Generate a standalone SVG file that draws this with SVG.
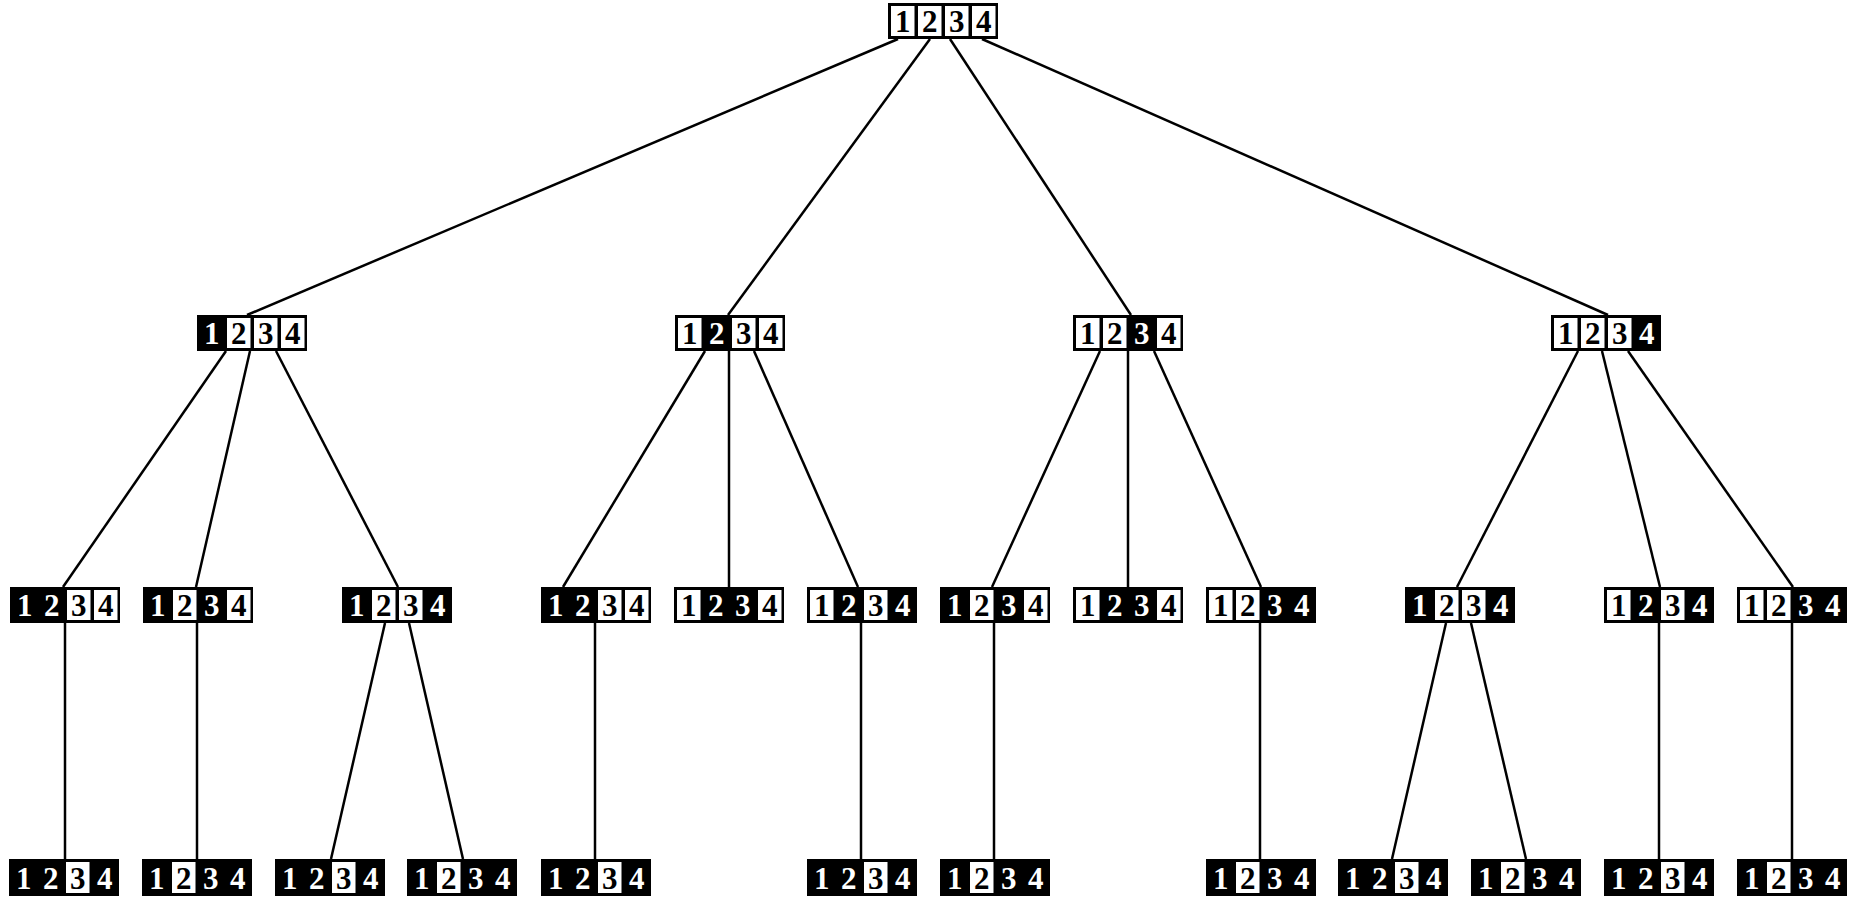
<svg xmlns="http://www.w3.org/2000/svg" width="1851" height="897" viewBox="0 0 1851 897">
  <style>
    .frame { fill: #000; }
    .cell { fill: #fff; }
    .d { font-family: "Liberation Serif", "Times New Roman", serif; font-weight: bold; font-size: 31px; text-anchor: middle; }
    .dw { fill: #000; }
    .db { fill: #fff; }
    .edges line { stroke: #000; stroke-width: 2.5; stroke-linecap: butt; }
  </style>

  <!-- connectors -->
  <g id="edges" class="edges">
    <!-- root to level 2 -->
    <line x1="898" y1="39" x2="247" y2="315"/>
    <line x1="930" y1="39" x2="728" y2="315"/>
    <line x1="950" y1="39" x2="1131" y2="315"/>
    <line x1="982" y1="39" x2="1608" y2="315"/>
    <!-- level 2 to level 3 -->
    <line x1="226" y1="351" x2="63" y2="587"/>
    <line x1="250" y1="351" x2="196" y2="587"/>
    <line x1="276" y1="351" x2="398" y2="587"/>
    <line x1="705" y1="351" x2="563" y2="587"/>
    <line x1="729" y1="351" x2="729" y2="587"/>
    <line x1="754" y1="351" x2="858" y2="587"/>
    <line x1="1100" y1="351" x2="992" y2="587"/>
    <line x1="1128" y1="351" x2="1128" y2="587"/>
    <line x1="1154" y1="351" x2="1261" y2="587"/>
    <line x1="1578" y1="351" x2="1457" y2="587"/>
    <line x1="1602" y1="351" x2="1660" y2="587"/>
    <line x1="1628" y1="351" x2="1793" y2="587"/>
    <!-- level 3 to leaves -->
    <line x1="65" y1="623" x2="65" y2="859"/>
    <line x1="197" y1="623" x2="197" y2="859"/>
    <line x1="385" y1="623" x2="331" y2="859"/>
    <line x1="409" y1="623" x2="463" y2="859"/>
    <line x1="595" y1="623" x2="595" y2="859"/>
    <line x1="861" y1="623" x2="861" y2="859"/>
    <line x1="994" y1="623" x2="994" y2="859"/>
    <line x1="1260" y1="623" x2="1260" y2="859"/>
    <line x1="1446" y1="623" x2="1392" y2="859"/>
    <line x1="1471" y1="623" x2="1526" y2="859"/>
    <line x1="1659" y1="623" x2="1659" y2="859"/>
    <line x1="1792" y1="623" x2="1792" y2="859"/>
  </g>

  <!-- root -->
  <g id="n-root" transform="translate(888,3)">
    <rect class="frame" width="110" height="36"/>
    <rect class="cell" x="3" y="3" width="23.5" height="30"/><rect class="cell" x="30" y="3" width="23.5" height="30"/><rect class="cell" x="57" y="3" width="23.5" height="30"/><rect class="cell" x="84" y="3" width="23.5" height="30"/>
    <text class="d dw" x="14.75" y="29">1</text><text class="d dw" x="41.75" y="29">2</text><text class="d dw" x="68.75" y="29">3</text><text class="d dw" x="95.75" y="29">4</text>
  </g>

  <!-- level 2 -->
  <g id="n-1" transform="translate(197,315)">
    <rect class="frame" width="110" height="36"/>
    <rect class="cell" x="30" y="3" width="23.5" height="30"/><rect class="cell" x="57" y="3" width="23.5" height="30"/><rect class="cell" x="84" y="3" width="23.5" height="30"/>
    <text class="d db" x="14.75" y="29">1</text><text class="d dw" x="41.75" y="29">2</text><text class="d dw" x="68.75" y="29">3</text><text class="d dw" x="95.75" y="29">4</text>
  </g>
  <g id="n-2" transform="translate(675,315)">
    <rect class="frame" width="110" height="36"/>
    <rect class="cell" x="3" y="3" width="23.5" height="30"/><rect class="cell" x="57" y="3" width="23.5" height="30"/><rect class="cell" x="84" y="3" width="23.5" height="30"/>
    <text class="d dw" x="14.75" y="29">1</text><text class="d db" x="41.75" y="29">2</text><text class="d dw" x="68.75" y="29">3</text><text class="d dw" x="95.75" y="29">4</text>
  </g>
  <g id="n-3" transform="translate(1073,315)">
    <rect class="frame" width="110" height="36"/>
    <rect class="cell" x="3" y="3" width="23.5" height="30"/><rect class="cell" x="30" y="3" width="23.5" height="30"/><rect class="cell" x="84" y="3" width="23.5" height="30"/>
    <text class="d dw" x="14.75" y="29">1</text><text class="d dw" x="41.75" y="29">2</text><text class="d db" x="68.75" y="29">3</text><text class="d dw" x="95.75" y="29">4</text>
  </g>
  <g id="n-4" transform="translate(1551,315)">
    <rect class="frame" width="110" height="36"/>
    <rect class="cell" x="3" y="3" width="23.5" height="30"/><rect class="cell" x="30" y="3" width="23.5" height="30"/><rect class="cell" x="57" y="3" width="23.5" height="30"/>
    <text class="d dw" x="14.75" y="29">1</text><text class="d dw" x="41.75" y="29">2</text><text class="d dw" x="68.75" y="29">3</text><text class="d db" x="95.75" y="29">4</text>
  </g>

  <!-- level 3 -->
  <g id="n-12" transform="translate(10,587)">
    <rect class="frame" width="110" height="36"/>
    <rect class="cell" x="57" y="3" width="23.5" height="30"/><rect class="cell" x="84" y="3" width="23.5" height="30"/>
    <text class="d db" x="14.75" y="29">1</text><text class="d db" x="41.75" y="29">2</text><text class="d dw" x="68.75" y="29">3</text><text class="d dw" x="95.75" y="29">4</text>
  </g>
  <g id="n-13" transform="translate(143,587)">
    <rect class="frame" width="110" height="36"/>
    <rect class="cell" x="30" y="3" width="23.5" height="30"/><rect class="cell" x="84" y="3" width="23.5" height="30"/>
    <text class="d db" x="14.75" y="29">1</text><text class="d dw" x="41.75" y="29">2</text><text class="d db" x="68.75" y="29">3</text><text class="d dw" x="95.75" y="29">4</text>
  </g>
  <g id="n-14" transform="translate(342,587)">
    <rect class="frame" width="110" height="36"/>
    <rect class="cell" x="30" y="3" width="23.5" height="30"/><rect class="cell" x="57" y="3" width="23.5" height="30"/>
    <text class="d db" x="14.75" y="29">1</text><text class="d dw" x="41.75" y="29">2</text><text class="d dw" x="68.75" y="29">3</text><text class="d db" x="95.75" y="29">4</text>
  </g>
  <g id="n-21" transform="translate(541,587)">
    <rect class="frame" width="110" height="36"/>
    <rect class="cell" x="57" y="3" width="23.5" height="30"/><rect class="cell" x="84" y="3" width="23.5" height="30"/>
    <text class="d db" x="14.75" y="29">1</text><text class="d db" x="41.75" y="29">2</text><text class="d dw" x="68.75" y="29">3</text><text class="d dw" x="95.75" y="29">4</text>
  </g>
  <g id="n-23" transform="translate(674,587)">
    <rect class="frame" width="110" height="36"/>
    <rect class="cell" x="3" y="3" width="23.5" height="30"/><rect class="cell" x="84" y="3" width="23.5" height="30"/>
    <text class="d dw" x="14.75" y="29">1</text><text class="d db" x="41.75" y="29">2</text><text class="d db" x="68.75" y="29">3</text><text class="d dw" x="95.75" y="29">4</text>
  </g>
  <g id="n-24" transform="translate(807,587)">
    <rect class="frame" width="110" height="36"/>
    <rect class="cell" x="3" y="3" width="23.5" height="30"/><rect class="cell" x="57" y="3" width="23.5" height="30"/>
    <text class="d dw" x="14.75" y="29">1</text><text class="d db" x="41.75" y="29">2</text><text class="d dw" x="68.75" y="29">3</text><text class="d db" x="95.75" y="29">4</text>
  </g>
  <g id="n-31" transform="translate(940,587)">
    <rect class="frame" width="110" height="36"/>
    <rect class="cell" x="30" y="3" width="23.5" height="30"/><rect class="cell" x="84" y="3" width="23.5" height="30"/>
    <text class="d db" x="14.75" y="29">1</text><text class="d dw" x="41.75" y="29">2</text><text class="d db" x="68.75" y="29">3</text><text class="d dw" x="95.75" y="29">4</text>
  </g>
  <g id="n-32" transform="translate(1073,587)">
    <rect class="frame" width="110" height="36"/>
    <rect class="cell" x="3" y="3" width="23.5" height="30"/><rect class="cell" x="84" y="3" width="23.5" height="30"/>
    <text class="d dw" x="14.75" y="29">1</text><text class="d db" x="41.75" y="29">2</text><text class="d db" x="68.75" y="29">3</text><text class="d dw" x="95.75" y="29">4</text>
  </g>
  <g id="n-34" transform="translate(1206,587)">
    <rect class="frame" width="110" height="36"/>
    <rect class="cell" x="3" y="3" width="23.5" height="30"/><rect class="cell" x="30" y="3" width="23.5" height="30"/>
    <text class="d dw" x="14.75" y="29">1</text><text class="d dw" x="41.75" y="29">2</text><text class="d db" x="68.75" y="29">3</text><text class="d db" x="95.75" y="29">4</text>
  </g>
  <g id="n-41" transform="translate(1405,587)">
    <rect class="frame" width="110" height="36"/>
    <rect class="cell" x="30" y="3" width="23.5" height="30"/><rect class="cell" x="57" y="3" width="23.5" height="30"/>
    <text class="d db" x="14.75" y="29">1</text><text class="d dw" x="41.75" y="29">2</text><text class="d dw" x="68.75" y="29">3</text><text class="d db" x="95.75" y="29">4</text>
  </g>
  <g id="n-42" transform="translate(1604,587)">
    <rect class="frame" width="110" height="36"/>
    <rect class="cell" x="3" y="3" width="23.5" height="30"/><rect class="cell" x="57" y="3" width="23.5" height="30"/>
    <text class="d dw" x="14.75" y="29">1</text><text class="d db" x="41.75" y="29">2</text><text class="d dw" x="68.75" y="29">3</text><text class="d db" x="95.75" y="29">4</text>
  </g>
  <g id="n-43" transform="translate(1737,587)">
    <rect class="frame" width="110" height="36"/>
    <rect class="cell" x="3" y="3" width="23.5" height="30"/><rect class="cell" x="30" y="3" width="23.5" height="30"/>
    <text class="d dw" x="14.75" y="29">1</text><text class="d dw" x="41.75" y="29">2</text><text class="d db" x="68.75" y="29">3</text><text class="d db" x="95.75" y="29">4</text>
  </g>

  <!-- leaves: one open cell each -->
  <g id="n-124" transform="translate(9,859)">
    <rect class="frame" width="110" height="37"/>
    <rect class="cell" x="57" y="3" width="23.5" height="31"/>
    <text class="d db" x="14.75" y="30">1</text><text class="d db" x="41.75" y="30">2</text><text class="d dw" x="68.75" y="30">3</text><text class="d db" x="95.75" y="30">4</text>
  </g>
  <g id="n-134" transform="translate(142,859)">
    <rect class="frame" width="110" height="37"/>
    <rect class="cell" x="30" y="3" width="23.5" height="31"/>
    <text class="d db" x="14.75" y="30">1</text><text class="d dw" x="41.75" y="30">2</text><text class="d db" x="68.75" y="30">3</text><text class="d db" x="95.75" y="30">4</text>
  </g>
  <g id="n-142" transform="translate(275,859)">
    <rect class="frame" width="110" height="37"/>
    <rect class="cell" x="57" y="3" width="23.5" height="31"/>
    <text class="d db" x="14.75" y="30">1</text><text class="d db" x="41.75" y="30">2</text><text class="d dw" x="68.75" y="30">3</text><text class="d db" x="95.75" y="30">4</text>
  </g>
  <g id="n-143" transform="translate(407,859)">
    <rect class="frame" width="110" height="37"/>
    <rect class="cell" x="30" y="3" width="23.5" height="31"/>
    <text class="d db" x="14.75" y="30">1</text><text class="d dw" x="41.75" y="30">2</text><text class="d db" x="68.75" y="30">3</text><text class="d db" x="95.75" y="30">4</text>
  </g>
  <g id="n-214" transform="translate(541,859)">
    <rect class="frame" width="110" height="37"/>
    <rect class="cell" x="57" y="3" width="23.5" height="31"/>
    <text class="d db" x="14.75" y="30">1</text><text class="d db" x="41.75" y="30">2</text><text class="d dw" x="68.75" y="30">3</text><text class="d db" x="95.75" y="30">4</text>
  </g>
  <g id="n-241" transform="translate(807,859)">
    <rect class="frame" width="110" height="37"/>
    <rect class="cell" x="57" y="3" width="23.5" height="31"/>
    <text class="d db" x="14.75" y="30">1</text><text class="d db" x="41.75" y="30">2</text><text class="d dw" x="68.75" y="30">3</text><text class="d db" x="95.75" y="30">4</text>
  </g>
  <g id="n-314" transform="translate(940,859)">
    <rect class="frame" width="110" height="37"/>
    <rect class="cell" x="30" y="3" width="23.5" height="31"/>
    <text class="d db" x="14.75" y="30">1</text><text class="d dw" x="41.75" y="30">2</text><text class="d db" x="68.75" y="30">3</text><text class="d db" x="95.75" y="30">4</text>
  </g>
  <g id="n-341" transform="translate(1206,859)">
    <rect class="frame" width="110" height="37"/>
    <rect class="cell" x="30" y="3" width="23.5" height="31"/>
    <text class="d db" x="14.75" y="30">1</text><text class="d dw" x="41.75" y="30">2</text><text class="d db" x="68.75" y="30">3</text><text class="d db" x="95.75" y="30">4</text>
  </g>
  <g id="n-412" transform="translate(1338,859)">
    <rect class="frame" width="110" height="37"/>
    <rect class="cell" x="57" y="3" width="23.5" height="31"/>
    <text class="d db" x="14.75" y="30">1</text><text class="d db" x="41.75" y="30">2</text><text class="d dw" x="68.75" y="30">3</text><text class="d db" x="95.75" y="30">4</text>
  </g>
  <g id="n-413" transform="translate(1471,859)">
    <rect class="frame" width="110" height="37"/>
    <rect class="cell" x="30" y="3" width="23.5" height="31"/>
    <text class="d db" x="14.75" y="30">1</text><text class="d dw" x="41.75" y="30">2</text><text class="d db" x="68.75" y="30">3</text><text class="d db" x="95.75" y="30">4</text>
  </g>
  <g id="n-421" transform="translate(1604,859)">
    <rect class="frame" width="110" height="37"/>
    <rect class="cell" x="57" y="3" width="23.5" height="31"/>
    <text class="d db" x="14.75" y="30">1</text><text class="d db" x="41.75" y="30">2</text><text class="d dw" x="68.75" y="30">3</text><text class="d db" x="95.75" y="30">4</text>
  </g>
  <g id="n-431" transform="translate(1737,859)">
    <rect class="frame" width="110" height="37"/>
    <rect class="cell" x="30" y="3" width="23.5" height="31"/>
    <text class="d db" x="14.75" y="30">1</text><text class="d dw" x="41.75" y="30">2</text><text class="d db" x="68.75" y="30">3</text><text class="d db" x="95.75" y="30">4</text>
  </g>
</svg>
